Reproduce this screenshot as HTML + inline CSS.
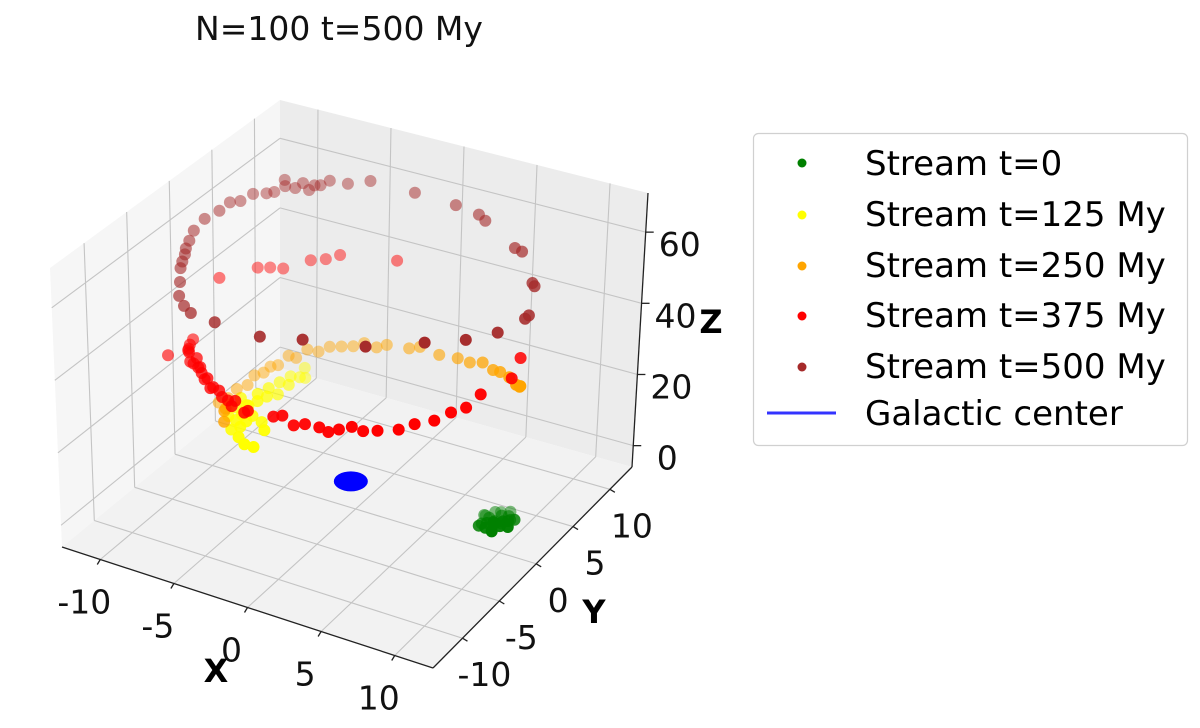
<!DOCTYPE html>
<html><head><meta charset="utf-8"><style>
html,body{margin:0;padding:0;background:#fff;width:1200px;height:728px;overflow:hidden}
svg{display:block;font-family:"DejaVu Sans","Liberation Sans",sans-serif}
</style></head><body>
<svg id="chart" width="1200" height="728" viewBox="0 0 1200 728" xmlns="http://www.w3.org/2000/svg">
<text x="339" y="40" font-size="33" text-anchor="middle" fill="#111">N=100 t=500 My</text>
<g id="panes"></g>
<g id="grid"></g>
<g id="axes"></g>
<g id="marks"></g>
<g id="labels" font-size="33" fill="#111"></g>
<text x="216" y="682" font-size="32" font-weight="bold" text-anchor="middle">X</text>
<text x="594" y="623" font-size="32" font-weight="bold" text-anchor="middle">Y</text>
<text x="711" y="333" font-size="32" font-weight="bold" text-anchor="middle">Z</text>
<g>
<rect x="753.5" y="133.5" width="434" height="312" rx="5" fill="#fff" stroke="#d0d0d0" stroke-width="1.2"/>
<g><circle cx="802" cy="163" r="4.5" fill="#008000"/><text x="865" y="175" font-size="34">Stream t=0</text></g>
<g><circle cx="802" cy="215" r="4.5" fill="#ffff00"/><text x="865" y="226" font-size="34">Stream t=125 My</text></g>
<g><circle cx="802" cy="266" r="4.5" fill="#ffa500"/><text x="865" y="277" font-size="34">Stream t=250 My</text></g>
<g><circle cx="802" cy="316" r="4.5" fill="#ff0000"/><text x="865" y="327" font-size="34">Stream t=375 My</text></g>
<g><circle cx="802" cy="367" r="4.5" fill="#a52a2a"/><text x="865" y="378" font-size="34">Stream t=500 My</text></g>
<g><line x1="767" y1="413" x2="836" y2="413" stroke="#3333ff" stroke-width="3"/><text x="865" y="425" font-size="34">Galactic center</text></g>
</g>
</svg>
<script>
// axis domain and ticks
const xTicks=[-10,-5,0,5,10];
const yTicks=[-10,-5,0,5,10];
const zTicks=[0,20,40,60];
const xDomain=[-12.6,12.6];
const yDomain=[-14,13];
const zDomain=[-6,71];
// series data [x,y,z]
const greenX=[9.3,9.0,9.6,8.8,9.8,9.4,8.6,9.1,10.0,9.5,8.9,9.7,9.2,10.2,8.5,9.4,9.9,8.7,9.1,10.3,9.6,8.4,9.0,9.8];
const greenY=[0.6,0.2,1.0,0.9,0.4,1.4,0.3,-0.2,1.1,-0.1,1.5,1.8,0.9,0.7,0.8,0.3,1.6,-0.3,1.9,1.4,2.2,1.2,1.2,0.8];
const greenZ=[0,0.5,-0.5,0.3,0.2,0.6,-0.3,0.1,0.4,-0.6,0.8,0,-0.8,-0.2,0.9,1.0,-0.4,0.4,0.2,0.5,0.3,-0.2,-1.0,0.7];
const yellowX=[-5.2,-5.0,-4.8,-5.5,-4.6,-5.3,-4.9,-4.4,-5.6,-4.7,-4.2,-3.8,-5.0,-4.6,-4.8,-4.4,-4.6,-4.2,-4.4,-4.0,-4.2,-3.9,-3.8,-4.0,-5.4,-5.8,-4.0,-3.6];
const yellowY=[-5.6,-5.2,-5.8,-5.0,-5.4,-6.0,-4.8,-5.0,-5.8,-6.2,-6.4,-6.0,-4.4,-4.0,-3.6,-3.2,-2.6,-2.2,-1.6,-1.2,-0.6,0.0,0.5,0.8,-4.6,-5.4,-4.6,-5.0];
const yellowZ=[23,24,22,25,23,21,26,24,24,20,19,18,25,26,27,26,27,25,27,26,27,26,25,27,27,26,22,21];
const orangeX=[-10.0,-9.8,-9.7,-9.4,-9.2,-8.9,-8.7,-8.4,-8.0,-7.7,-7.2,-6.7,-6.2,-5.6,-5.0,-4.4,-3.7,-3.1,-1.7,-1.0,0.3,1.7,2.6,3.7,4.7,5.4,6.4,7.4,7.9,8.1,-7.5,-7.2,-7.0];
const orangeY=[0.9,1.7,2.6,3.4,3.9,4.5,5.0,5.4,6.0,6.4,6.9,7.4,7.9,8.3,8.7,9.0,9.3,9.5,9.8,9.9,10.0,9.8,9.7,9.3,8.8,8.4,7.7,6.7,6.2,5.9,-2.7,-3.4,-3.8];
const orangeZ=[10,10,11,11,13,13,14,14,16,15,17,16,17,17,17,18,17,18,18,19,18,19,19,21,21,22,23,24,25,26,18,19,17];
const redX=[-3.4,-3.7,-4.2,-4.5,-5.0,-5.3,-5.6,-5.9,-6.2,-6.4,-6.7,-6.9,-3.1,-2.4,-2.1,-7.4,-7.9,-8.3,-8.7,-9.0,-9.2,-9.6,-10.3,-7.1,-8.7,-8.2,-9.1,-6.4,-5.7,-2.6,-9.9,-0.3,0.3,1.0,1.7,2.6,3.1,3.7,4.4,5.0,5.7,6.7,7.4,8.2,8.8,9.3,9.7,10.0,9.7];
const redY=[-9.4,-9.3,-9.1,-8.9,-8.7,-8.5,-8.3,-8.1,-7.9,-7.7,-7.4,-7.2,-9.5,-9.7,-9.8,-6.7,-6.2,-5.6,-5.0,-4.4,-3.9,-2.8,-4.6,7.1,5.0,5.7,4.2,7.7,8.2,9.7,1.0,-10.0,-10.0,-9.9,-9.8,-9.7,-9.5,-9.3,-9.0,-8.7,-8.2,-7.4,-6.7,-5.7,-4.7,-3.7,-2.6,0.9,2.6];
const redZ=[36,37,37,38,38,37,39,38,39,40,39,41,38,36,37,38,37,38,37,36,36,35,33,42,42,41,43,42,43,42,45,38,39,37,38,38,37,38,39,38,38,38,39,39,40,40,42,40,42];
const brownX=[-9.5,-9.9,-10.0,-10.1,-10.2,-10.3,-10.5,-10.5,-10.3,-10.1,-9.9,-9.5,-9.1,-8.8,-8.4,-8.0,-7.7,-7.2,-6.5,-5.6,-4.4,-1.8,0.9,2.7,3.2,6.0,6.8,8.6,9.1,10.1,10.3,10.3,9.5,8.0,5.3,1.8,-0.9,-4.4,-6.8,-7.8,-8.9,-7.4,-6.9,-8.6];
const brownY=[-4.4,-3.6,-3.2,-2.7,-2.4,-1.8,-0.9,0.4,1.8,2.7,3.6,4.4,5.3,5.7,6.3,6.8,7.2,7.7,8.3,8.9,9.5,10.3,10.5,10.1,10.0,8.6,8.0,6.0,5.3,2.7,1.8,-1.8,-4.4,-6.8,-9.1,-10.3,-10.5,-9.5,-8.0,-7.0,-5.6,7.4,7.9,6.6];
const brownZ=[54,56,57,58,59,60,61,62,62,63,62,63,62,62,63,62,63,62,63,62,63,61,60,60,59,57,58,55,56,54,55,58,60,62,62,62,60,58,55,54,53,61,62,64];
const centerPoint=[0,0,0];

const NS='http://www.w3.org/2000/svg';
const C={ '000':[62,547],'100':[433,668],'110':[632,467],'010':[280,368],
          '001':[50,268],'101':[440,378],'111':[648,193],'011':[280,100]};
function lerp(a,b,t){return [a[0]+(b[0]-a[0])*t,a[1]+(b[1]-a[1])*t];}
function proj(x,y,z){
  const u=(x-xDomain[0])/(xDomain[1]-xDomain[0]);
  const v=(y-yDomain[0])/(yDomain[1]-yDomain[0]);
  const w=(z-zDomain[0])/(zDomain[1]-zDomain[0]);
  const b0=lerp(lerp(C['000'],C['100'],u),lerp(C['010'],C['110'],u),v);
  const b1=lerp(lerp(C['001'],C['101'],u),lerp(C['011'],C['111'],u),v);
  return lerp(b0,b1,w);
}
function mk(tag,attrs,parent){const e=document.createElementNS(NS,tag);for(const k in attrs)e.setAttribute(k,attrs[k]);parent.appendChild(e);return e;}
const panes=document.getElementById('panes'),grid=document.getElementById('grid'),axes=document.getElementById('axes'),marks=document.getElementById('marks'),labels=document.getElementById('labels');
const [x0,x1]=xDomain,[y0,y1]=yDomain,[z0,z1]=zDomain;
function poly(pts,fill,name){const p=mk('polygon',{points:pts.map(q=>q.join(',')).join(' '),fill:fill},panes);

}
poly([proj(x0,y0,z0),proj(x0,y0,z1),proj(x0,y1,z1),proj(x0,y1,z0)],'#f6f6f6','left-pane');
poly([proj(x0,y1,z0),proj(x0,y1,z1),proj(x1,y1,z1),proj(x1,y1,z0)],'#ececec','right-pane');
poly([proj(x0,y0,z0),proj(x1,y0,z0),proj(x1,y1,z0),proj(x0,y1,z0)],'#f2f2f2','floor-pane');
function gl(a,b,name){const l=mk('line',{x1:a[0],y1:a[1],x2:b[0],y2:b[1],stroke:'#c4c4c4','stroke-width':1.1},grid);

}
xTicks.forEach(t=>{gl(proj(t,y0,z0),proj(t,y1,z0),'grid-x-floor');gl(proj(t,y1,z0),proj(t,y1,z1),'grid-x-wall');});
yTicks.forEach(t=>{gl(proj(x0,t,z0),proj(x1,t,z0),'grid-y-floor');gl(proj(x0,t,z0),proj(x0,t,z1),'grid-y-wall');});
zTicks.forEach(t=>{gl(proj(x0,y0,t),proj(x0,y1,t),'grid-z-left');gl(proj(x0,y1,t),proj(x1,y1,t),'grid-z-right');});
function al(a,b,name){const l=mk('line',{x1:a[0],y1:a[1],x2:b[0],y2:b[1],stroke:'#222','stroke-width':1.3},axes);

}
al(proj(x0,y0,z0),proj(x1,y0,z0),'x-axis-line');
al(proj(x1,y0,z0),proj(x1,y1,z0),'y-axis-line');
al(proj(x1,y1,z0),proj(x1,y1,z1),'z-axis-line');
function lab(p,txt,name){const t=mk('text',{x:p[0],y:p[1],'text-anchor':'middle'},labels);t.textContent=txt;

}
xTicks.forEach(t=>{const p=proj(t,y0,z0);al(p,[p[0]-3,p[1]+5],'x-tick');lab([p[0]-16,p[1]+54],String(t),'x-tick-label');});
yTicks.forEach(t=>{const p=proj(x1,t,z0);al(p,[p[0]+5,p[1]+3],'y-tick');lab([p[0]+22,p[1]+48],String(t),'y-tick-label');});
zTicks.forEach(t=>{const p=proj(x1,y1,t);al(p,[p[0]+8,p[1]],'z-tick');lab([p[0]+34,p[1]+24],String(t),'z-tick-label');});
// galactic center
const cp=proj(centerPoint[0],centerPoint[1],centerPoint[2]);
const ce=mk('ellipse',{cx:cp[0]-5,cy:cp[1]-6,rx:17,ry:10,fill:'#0000ff'},marks);


function series(X,Y,Z,color,name){
  const g=mk('g',{},marks);
  
  
  const d=X.map((x,i)=>x-Y[i]);const dmin=Math.min(...d),dmax=Math.max(...d);
  const idx=X.map((_,i)=>i).sort((a,b)=>d[a]-d[b]);
  idx.forEach(i=>{const p=proj(X[i],Y[i],Z[i]);
    const a=dmax>dmin?0.45+0.55*(d[i]-dmin)/(dmax-dmin):1;
    const c=mk('circle',{cx:p[0],cy:p[1],r:6,fill:color,'fill-opacity':a.toFixed(2)},g);
    
    });
}
series(greenX,greenY,greenZ,'#008000','stream-t0');
series(yellowX,yellowY,yellowZ,'#ffff00','stream-t125');
series(orangeX,orangeY,orangeZ,'#ffa500','stream-t250');
series(redX,redY,redZ,'#ff0000','stream-t375');
series(brownX,brownY,brownZ,'#a52a2a','stream-t500');
</script>
</body></html>
